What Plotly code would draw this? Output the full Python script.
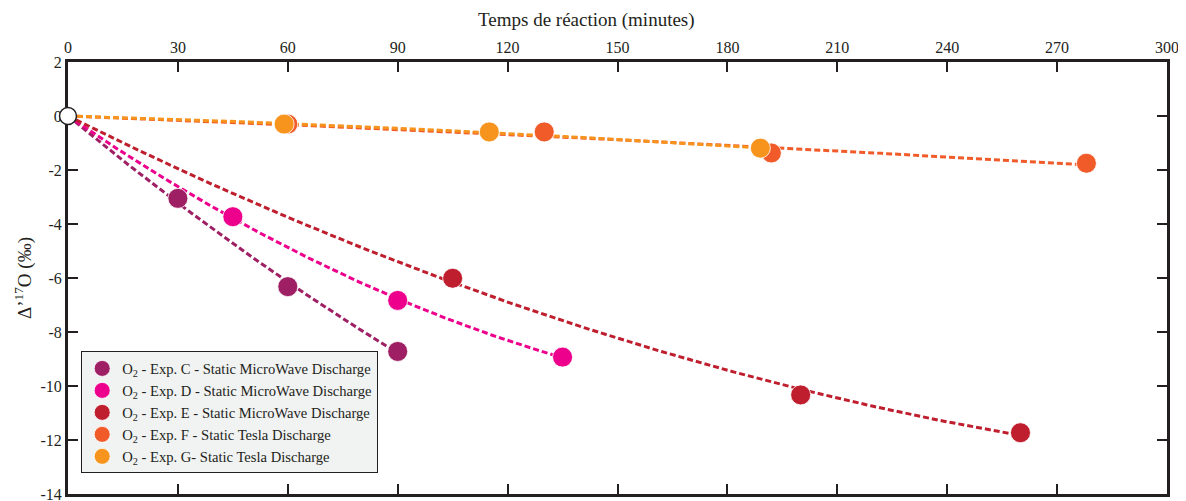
import numpy as np
import plotly.graph_objects as go

# ---- data ----
series_names = [
    "O<sub>2</sub> - Exp. C - Static MicroWave Discharge",
    "O<sub>2</sub> - Exp. D - Static MicroWave Discharge",
    "O<sub>2</sub> - Exp. E - Static MicroWave Discharge",
    "O<sub>2</sub> - Exp. F - Static Tesla Discharge",
    "O<sub>2</sub> - Exp. G- Static Tesla Discharge",
]
series_colors = ["#9E1F63", "#EC008C", "#BE1E2D", "#F15A29", "#F7941D"]

time_C = [30, 60, 90]
d17_C = [-3.05, -6.32, -8.72]
time_D = [45, 90, 135]
d17_D = [-3.73, -6.83, -8.93]
time_E = [105, 200, 260]
d17_E = [-6.01, -10.33, -11.73]
time_F = [60, 130, 192, 278]
d17_F = [-0.30, -0.59, -1.37, -1.75]
time_G = [59, 115, 189]
d17_G = [-0.30, -0.59, -1.19]

origin_time = [0]
origin_d17 = [0]

x_ticks = [0, 30, 60, 90, 120, 150, 180, 210, 240, 270, 300]
y_ticks = [2, 0, -2, -4, -6, -8, -10, -12, -14]
y_tick_labels = ["2", "0", "-2", "-4", "-6", "-8", "-10", "-12", "-14"]

x_title = "Temps de réaction (minutes)"
y_title = "Δ’<sup>17</sup>O (‰)"

times = [time_C, time_D, time_E, time_F, time_G]
values = [d17_C, d17_D, d17_E, d17_F, d17_G]

FONT = "Liberation Serif"
INK = "#231F20"

fig = go.Figure()


def fit_curve(x, y):
    # least-squares quadratic forced through the origin
    xa = np.array([0] + list(x), dtype=float)
    ya = np.array([0] + list(y), dtype=float)
    A = np.vstack([xa, xa ** 2]).T
    coef, *_ = np.linalg.lstsq(A, ya, rcond=None)
    xs = np.linspace(0, max(x), 200)
    return xs, coef[0] * xs + coef[1] * xs ** 2


# fit lines first (below markers)
for x, y, c in zip(times, values, series_colors):
    xs, ys = fit_curve(x, y)
    fig.add_trace(go.Scatter(
        x=xs, y=ys, mode="lines", showlegend=False, hoverinfo="skip",
        line=dict(color=c, width=3, dash="6px,3px"),
    ))

for x, y, c, n in zip(times, values, series_colors, series_names):
    fig.add_trace(go.Scatter(
        x=x, y=y, mode="markers", name=n,
        marker=dict(color=c, size=20, line=dict(color="white", width=0.8)),
        cliponaxis=False,
    ))

fig.add_trace(go.Scatter(
    x=origin_time, y=origin_d17, mode="markers", showlegend=False,
    marker=dict(color="white", size=17, line=dict(color=INK, width=1.5)),
    cliponaxis=False,
))

# the page body keeps its default 8px margin, so the figure is 8px smaller
fig.update_layout(
    width=1178, height=493,
    margin=dict(l=60, r=19, t=54, b=7, autoexpand=False),
    paper_bgcolor="white", plot_bgcolor="white",
    font=dict(family=FONT, size=16, color=INK),
    xaxis=dict(
        range=[0, 300], side="top", tickvals=x_ticks, automargin=False,
        ticks="inside", ticklen=10, tickwidth=2, tickcolor=INK,
        showline=True, linewidth=3, linecolor=INK, mirror="ticks",
        showgrid=False, zeroline=False, layer="below traces",
        ticklabeloverflow="allow",
        tickfont=dict(family=FONT, size=16, color=INK),
    ),
    yaxis=dict(
        range=[-14, 2], tickvals=y_ticks, ticktext=y_tick_labels,
        automargin=False, ticklabeloverflow="allow",
        ticks="inside", ticklen=10, tickwidth=2, tickcolor=INK,
        showline=True, linewidth=3, linecolor=INK, mirror="ticks",
        showgrid=False, zeroline=False, layer="below traces",
        tickfont=dict(family=FONT, size=16, color=INK),
        title=dict(text=y_title, standoff=4,
                   font=dict(family=FONT, size=19, color=INK)),
    ),
    legend=dict(
        x=0.012, y=0.33, xanchor="left", yanchor="top",
        bgcolor="#F1F2F2", bordercolor=INK, borderwidth=1,
        font=dict(family=FONT, size=14.6, color=INK),
        itemsizing="trace",
    ),
    showlegend=True,
    annotations=[dict(
        text=x_title, xref="paper", yref="paper", x=0.4715, y=1,
        xanchor="center", yanchor="middle", yshift=42, showarrow=False,
        font=dict(family=FONT, size=19, color=INK),
    )],
)

fig.write_html("out.html")
